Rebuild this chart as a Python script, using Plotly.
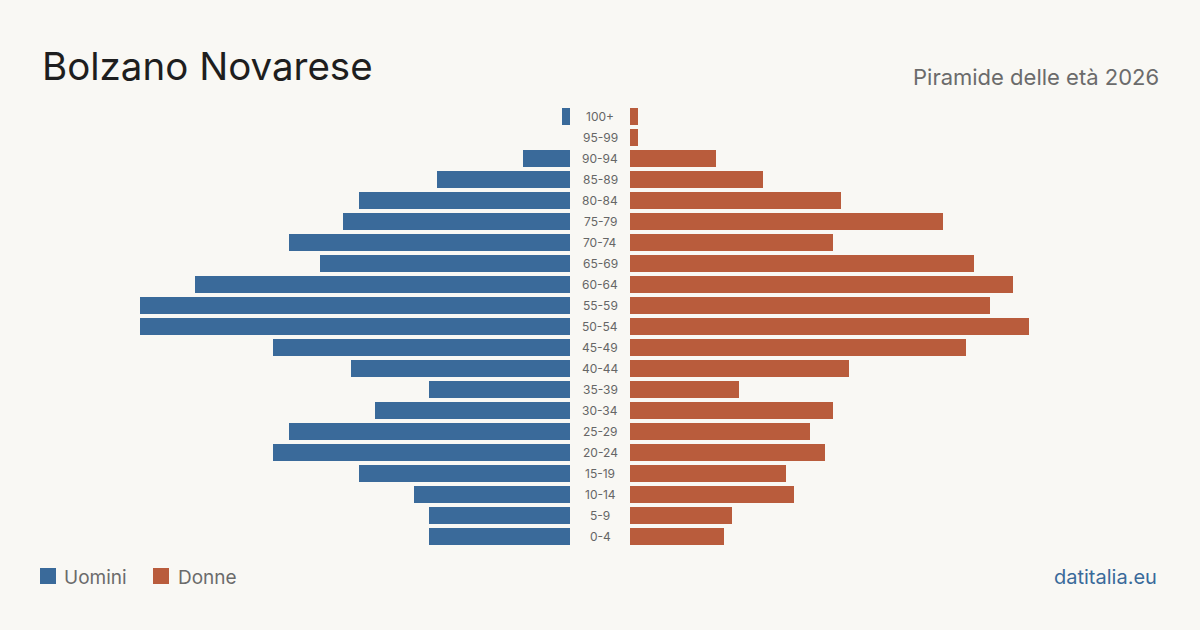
import plotly.graph_objects as go

age_groups = ["0-4", "5-9", "10-14", "15-19", "20-24", "25-29", "30-34", "35-39",
              "40-44", "45-49", "50-54", "55-59", "60-64", "65-69", "70-74",
              "75-79", "80-84", "85-89", "90-94", "95-99", "100+"]
men = [18, 18, 20, 27, 38, 36, 25, 18, 28, 38, 55, 55, 48, 32, 36, 29, 27, 17, 6, 0, 1]
women = [12, 13, 21, 20, 25, 23, 26, 14, 28, 43, 51, 46, 49, 44, 26, 40, 27, 17, 11, 1, 1]

men_color = "#3a6a9a"
women_color = "#b95c3c"
bg = "#f9f8f4"
font_family = "Inter, 'Open Sans', sans-serif"

W, H = 1200, 630
fig = go.Figure()

fig.add_trace(go.Bar(y=age_groups, x=men, orientation="h", marker_color=men_color,
                     marker_line_width=0,
                     width=0.81, xaxis="x", yaxis="y", name="Uomini", showlegend=False,
                     hoverinfo="x+y"))
fig.add_trace(go.Bar(y=age_groups, x=women, orientation="h", marker_color=women_color,
                     marker_line_width=0,
                     width=0.81, xaxis="x2", yaxis="y", name="Donne", showlegend=False,
                     hoverinfo="x+y"))

y_top = 106.2
y_bot = 547.2
fig.update_layout(
    width=W, height=H,
    margin=dict(l=0, r=0, t=0, b=0),
    paper_bgcolor=bg, plot_bgcolor=bg,
    font=dict(family=font_family),
    xaxis=dict(domain=[140 / W, 570 / W], range=[55, 0], visible=False, fixedrange=True),
    xaxis2=dict(domain=[630 / W, 1060 / W], range=[0, 55], visible=False, fixedrange=True),
    yaxis=dict(domain=[1 - y_bot / H, 1 - y_top / H], visible=False,
               categoryorder="array", categoryarray=age_groups,
               range=[-0.5, len(age_groups) - 0.5]),
    bargap=0,
)

annotations = []
for g in age_groups:
    annotations.append(dict(x=0.5, xref="paper", y=g, yref="y", text=g, showarrow=False,
                            font=dict(size=12, color="#666666"), xanchor="center", yanchor="middle"))

annotations += [
    dict(x=40 / W, y=1 - 66 / H, xref="paper", yref="paper", text="Bolzano Novarese",
         showarrow=False, xanchor="left", yanchor="middle",
         font=dict(size=38.5, color="#1e1e1e")),
    dict(x=1161 / W, y=1 - 77 / H, xref="paper", yref="paper", text="Piramide delle età 2026",
         showarrow=False, xanchor="right", yanchor="middle",
         font=dict(size=22, color="#6b6b6b")),
    dict(x=62 / W, y=1 - 577 / H, xref="paper", yref="paper", text="Uomini",
         showarrow=False, xanchor="left", yanchor="middle",
         font=dict(size=19, color="#6b6b6b")),
    dict(x=176 / W, y=1 - 577 / H, xref="paper", yref="paper", text="Donne",
         showarrow=False, xanchor="left", yanchor="middle",
         font=dict(size=19, color="#6b6b6b")),
    dict(x=1159 / W, y=1 - 577 / H, xref="paper", yref="paper", text="datitalia.eu",
         showarrow=False, xanchor="right", yanchor="middle",
         font=dict(size=20, color="#3a6a9a")),
]

shapes = [
    dict(type="rect", xref="paper", yref="paper", x0=40 / W, x1=56 / W,
         y0=1 - 584 / H, y1=1 - 568 / H, fillcolor=men_color, line_width=0),
    dict(type="rect", xref="paper", yref="paper", x0=153 / W, x1=169 / W,
         y0=1 - 584 / H, y1=1 - 568 / H, fillcolor=women_color, line_width=0),
]

fig.update_layout(annotations=annotations, shapes=shapes)
fig.write_html("out.html")
